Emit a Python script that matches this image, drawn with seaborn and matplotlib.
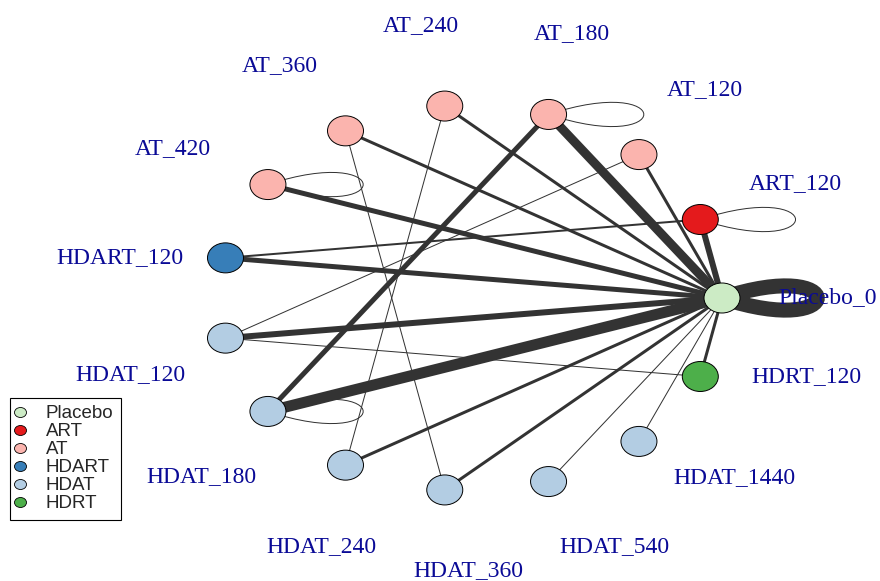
import numpy as np
import pandas as pd
import matplotlib
matplotlib.use("Agg")
import matplotlib.pyplot as plt
from matplotlib.path import Path
from matplotlib.patches import PathPatch
from matplotlib.lines import Line2D
import seaborn as sns

# ---- network data -------------------------------------------------------
nodes = ["Placebo_0", "ART_120", "AT_120", "AT_180", "AT_240", "AT_360",
         "AT_420", "HDART_120", "HDAT_120", "HDAT_180", "HDAT_240",
         "HDAT_360", "HDAT_540", "HDAT_1440", "HDRT_120"]
groups = ["Placebo", "ART", "AT", "AT", "AT", "AT", "AT", "HDART",
          "HDAT", "HDAT", "HDAT", "HDAT", "HDAT", "HDAT", "HDRT"]

edge_from = ["Placebo_0", "Placebo_0", "Placebo_0", "Placebo_0", "Placebo_0",
             "Placebo_0", "Placebo_0", "Placebo_0", "Placebo_0", "Placebo_0",
             "Placebo_0", "Placebo_0", "Placebo_0", "Placebo_0",
             "AT_180", "ART_120", "AT_120", "HDRT_120", "HDAT_240", "HDAT_360",
             "Placebo_0", "ART_120", "AT_180", "AT_420", "HDAT_180"]
edge_to = ["ART_120", "AT_120", "AT_180", "AT_240", "AT_360",
           "AT_420", "HDART_120", "HDAT_120", "HDAT_180", "HDAT_240",
           "HDAT_360", "HDAT_540", "HDAT_1440", "HDRT_120",
           "HDAT_180", "HDART_120", "HDAT_120", "HDAT_120", "AT_240", "AT_360",
           "Placebo_0", "ART_120", "AT_180", "AT_420", "HDAT_180"]
edge_weight = [6, 3, 9, 3, 3,
               5, 5, 6, 11, 3,
               3, 1, 1, 3,
               5, 2, 1, 1, 1, 1,
               15, 1, 1, 1, 1]

legend_groups = ["Placebo", "ART", "AT", "HDART", "HDAT", "HDRT"]
group_colors = ["#CCEBC5", "#E41A1C", "#FBB4AE", "#377EB8", "#B3CDE3", "#4DAF4A"]

# ---- layout ---------------------------------------------------------------
W, H = 880, 581
cx, cy, rx, ry = 471, 298, 251, 193          # circular (elliptical) layout
n = len(nodes)
theta = 2 * np.pi * np.arange(n) / n
pos_x = cx + rx * np.cos(theta)
pos_y = cy - ry * np.sin(theta)
pos = {name: (x, y) for name, x, y in zip(nodes, pos_x, pos_y)}

# label directions spread over n-1 steps, placed on an ellipse round each node
lab_phi = 2 * np.pi * np.arange(n) / (n - 1)
lab_dx, lab_dy = 106, 83

sns.set_theme(style="white")
plt.rcParams["font.family"] = ["Liberation Serif", "DejaVu Serif"]

fig = plt.figure(figsize=(W / 100, H / 100), dpi=100)
ax = fig.add_axes([0, 0, 1, 1])
ax.set_xlim(0, W)
ax.set_ylim(H, 0)
ax.axis("off")

edge_col = "#333333"
px = 0.72  # points per pixel

# edges and self loops
for a, b, w in zip(edge_from, edge_to, edge_weight):
    x0, y0 = pos[a]
    if a == b:
        la, lb = 127, 42
        verts = [(x0, y0), (x0 + la, y0 - lb), (x0 + la, y0 + lb), (x0, y0)]
        codes = [Path.MOVETO, Path.CURVE4, Path.CURVE4, Path.CURVE4]
        ax.add_patch(PathPatch(Path(verts, codes), facecolor="none",
                               edgecolor=edge_col, lw=w * px, zorder=1,
                               capstyle="butt"))
    else:
        x1, y1 = pos[b]
        ax.plot([x0, x1], [y0, y1], color=edge_col, lw=w * px,
                solid_capstyle="butt", zorder=1)

# nodes (slightly wide ellipses)
circ = Path.unit_circle()
ell_marker = Path(circ.vertices * np.array([1.2, 1.0]), circ.codes)
df = pd.DataFrame({"x": pos_x, "y": pos_y, "group": groups, "name": nodes})
palette = dict(zip(legend_groups, group_colors))
sns.scatterplot(data=df, x="x", y="y", hue="group", palette=palette,
                marker=ell_marker, s=(36 * px) ** 2, edgecolor="black",
                linewidth=0.7, legend=False, zorder=3, ax=ax)
ax.set_xlim(0, W)
ax.set_ylim(H, 0)

# node labels
for i, name in enumerate(nodes):
    lx = pos_x[i] + lab_dx * np.cos(lab_phi[i])
    ly = pos_y[i] - lab_dy * np.sin(lab_phi[i])
    ax.text(lx, ly, name, color="#0A0A96", fontsize=17, ha="center",
            va="center", family=["Liberation Serif", "DejaVu Serif"], zorder=4)

# legend
handles = [Line2D([], [], linestyle="none", marker=ell_marker, markersize=12 * px,
                  markerfacecolor=c, markeredgecolor="black", markeredgewidth=0.6)
           for c in group_colors]
leg = ax.legend(handles, legend_groups, loc="lower left",
                bbox_to_anchor=(10 / W, 1 - 520 / H), borderaxespad=0,
                prop={"family": ["Liberation Sans", "DejaVu Sans"], "size": 13.5},
                labelspacing=0.05, handlelength=0.3, handletextpad=1.2,
                borderpad=0.4, frameon=True, fancybox=False, framealpha=1,
                edgecolor="black")
leg.get_frame().set_linewidth(0.8)

fig.savefig("out.png", dpi=100)
